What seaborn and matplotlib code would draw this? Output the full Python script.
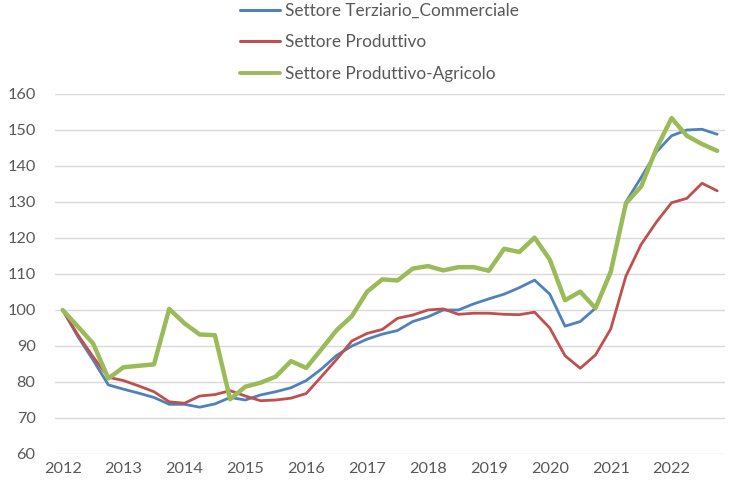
import matplotlib
matplotlib.use("Agg")
import matplotlib.pyplot as plt
import seaborn as sns
import pandas as pd
import numpy as np

years = ["2012", "2013", "2014", "2015", "2016", "2017", "2018", "2019", "2020", "2021", "2022"]
quarters = ["Q1", "Q2", "Q3", "Q4"]

terziario = [100.0, 92.6, 86.1, 79.2, 78.0, 76.9, 75.7, 73.8, 73.8, 73.0, 73.9,
             75.7, 75.0, 76.4, 77.3, 78.4, 80.4, 83.6, 87.4, 90.0, 91.9, 93.3,
             94.3, 96.8, 98.1, 100.0, 100.0, 101.7, 103.1, 104.4, 106.2, 108.3,
             104.4, 95.5, 96.8, 100.5, 111.0, 130.0, 136.8, 143.9, 148.4, 150.0,
             150.2, 148.8]
produttivo = [100.0, 93.1, 87.0, 81.3, 80.4, 78.9, 77.3, 74.5, 74.1, 76.1, 76.5,
              77.6, 76.1, 74.8, 75.0, 75.5, 76.8, 81.5, 86.3, 91.4, 93.5, 94.6,
              97.7, 98.6, 100.0, 100.3, 98.8, 99.1, 99.1, 98.8, 98.7, 99.4,
              95.0, 87.3, 83.8, 87.5, 94.7, 109.4, 118.2, 124.4, 129.8, 131.0,
              135.2, 133.1]
agricolo = [100.0, 95.4, 90.7, 81.0, 84.1, 84.5, 84.9, 100.3, 96.3, 93.2, 93.0,
            75.2, 78.7, 79.8, 81.5, 85.8, 83.9, 89.1, 94.4, 98.3, 105.1, 108.5,
            108.2, 111.5, 112.2, 111.0, 111.9, 111.9, 110.9, 117.0, 116.1, 120.1,
            114.0, 102.7, 105.1, 100.5, 110.5, 129.6, 134.3, 144.8, 153.3, 148.4,
            146.1, 144.2]

series_names = ["Settore Terziario_Commerciale", "Settore Produttivo", "Settore Produttivo-Agricolo"]
colors = ["#4F81BD", "#C0504D", "#9BBB59"]
widths = [2.0, 2.0, 3.2]

n = len(terziario)
df = pd.DataFrame({
    "t": list(range(n)) * 3,
    "value": terziario + produttivo + agricolo,
    "serie": [series_names[0]] * n + [series_names[1]] * n + [series_names[2]] * n,
})

sns.set_style("white")
plt.rcParams["font.family"] = ["Lato", "DejaVu Sans"]

fig = plt.figure(figsize=(7.56, 4.96), dpi=100)
ax = fig.add_axes([0.0728, 0.0847, 0.886, 0.7258])

sns.lineplot(data=df, x="t", y="value", hue="serie", hue_order=series_names,
             palette=colors, ax=ax, legend=False, estimator=None)
for line, w in zip(ax.get_lines(), widths):
    line.set_linewidth(w)
    line.set_solid_joinstyle("round")

ax.set_xlim(-0.5, n - 0.5)
ax.set_ylim(60, 160)
ax.set_yticks(range(60, 161, 10))
ax.set_xticks(range(0, n, 4))
ax.set_xticklabels(years)
ax.yaxis.grid(True, color="#D9D9D9", linewidth=1.0)
ax.xaxis.grid(False)
for s in ax.spines.values():
    s.set_visible(False)
ax.tick_params(axis="both", length=0, labelsize=11.7, colors="#595959")
ax.tick_params(axis="y", pad=14)
ax.tick_params(axis="x", pad=6)
ax.set_xlabel("")
ax.set_ylabel("")

from matplotlib.lines import Line2D
handles = [Line2D([0], [0], color=c, lw=2.2 if w < 3 else 2.8) for c, w in zip(colors, widths)]
leg = fig.legend(handles, series_names, loc="upper left",
                 bbox_to_anchor=(0.308, 1.008), frameon=False,
                 fontsize=12.4, handlelength=2.35, handletextpad=0.25,
                 labelspacing=0.9, borderaxespad=0)
for t in leg.get_texts():
    t.set_color("#595959")

fig.savefig("out.png", dpi=100)
